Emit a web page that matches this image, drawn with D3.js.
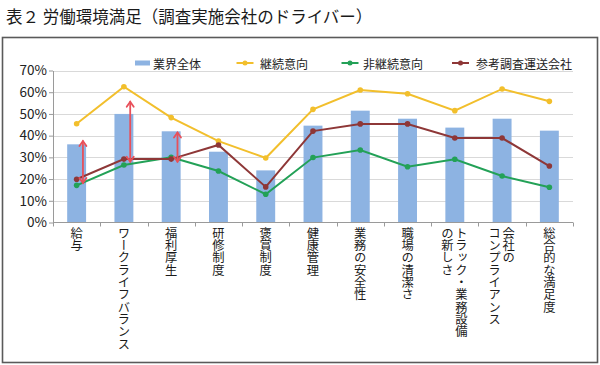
<!DOCTYPE html>
<html><head><meta charset="utf-8">
<script src="https://cdn.jsdelivr.net/npm/d3@7"></script>
<style>
html,body{margin:0;padding:0;background:#fff;}
svg{display:block;font-family:"Noto Sans CJK JP",sans-serif;}
</style></head>
<body><svg id="c" width="600" height="365"></svg>
<script>
const title = "表２ 労働環境満足（調査実施会社のドライバー）";
const categories = ["給与","ワークライフバランス","福利厚生","研修制度","褒賞制度","健康管理","業務の安全性","職場の清潔さ","トラック・業務設備の新しさ","会社のコンプライアンス","総合的な満足度"];
const categoryLines = [["給与"],["ワークライフバランス"],["福利厚生"],["研修制度"],["褒賞制度"],["健康管理"],["業務の安全性"],["職場の清潔さ"],["トラック・業務設備","の新しさ"],["会社の","コンプライアンス"],["総合的な満足度"]];
const seriesNames = ["業界全体","継続意向","非継続意向","参考調査運送会社"];
const industry = [36, 50, 42, 32.6, 24, 44.6, 51.5, 47.8, 43.7, 47.8, 42.3];
const continueIntent = [45.5, 62.5, 48.3, 37.5, 29.7, 52.1, 61, 59.3, 51.5, 61.5, 55.8];
const nonContinue = [17.1, 26.5, 30, 23.7, 13, 29.9, 33.4, 25.7, 29.1, 21.4, 16.2];
const reference = [19.9, 29.2, 29.2, 35.7, 16.4, 42.1, 45.4, 45.4, 38.9, 38.9, 26];
const yTicks = [0,10,20,30,40,50,60,70];
const arrowCats = ["給与","ワークライフバランス","福利厚生"];
const arrowLow = [18.2, 28, 28];
const arrowHigh = [37.5, 55.6, 41.4];

const colors = {bar:"#8db3e2", cont:"#f2bf2c", non:"#23a157", ref:"#8e3737", arrow:"#e8505a"};

const svg = d3.select("#c");
// frame
svg.append("rect").attr("x",2.5).attr("y",37.5).attr("width",595).attr("height",325)
  .attr("fill","none").attr("stroke","#5a5a5a").attr("stroke-width",1.6);
svg.append("text").attr("x",6).attr("y",16).attr("dominant-baseline","central")
  .attr("font-size",16.5).attr("font-weight",400).attr("fill","#1a1a1a").text(title);

const x = d3.scaleBand().domain(categories).range([53,573]).paddingInner(0.6).paddingOuter(0.3);
const y = d3.scaleLinear().domain([0,70]).range([222.5,70.5]);
const bw = x.bandwidth(), step = x.step();
const cx = c => x(c) + bw/2;

// gridlines
svg.append("g").selectAll("line").data(yTicks.filter(d=>d>0)).join("line")
  .attr("x1",53).attr("x2",573).attr("y1",d=>Math.round(y(d))+0.5).attr("y2",d=>Math.round(y(d))+0.5)
  .attr("stroke","#d9d9d9").attr("stroke-width",1);

// y axis
const ya = svg.append("g").attr("transform","translate(53,0)")
  .call(d3.axisLeft(y).tickValues(yTicks).tickFormat(d=>d+"%").tickSize(4).tickSizeOuter(0));
ya.select(".domain").attr("stroke","#9a9a9a");
ya.selectAll(".tick line").attr("stroke","#9a9a9a");
ya.selectAll(".tick text").attr("font-family","'Noto Sans CJK JP',sans-serif").attr("font-size",13.5).attr("fill","#222").attr("x",-6);

// bars
svg.append("g").selectAll("rect").data(categories).join("rect")
  .attr("x",c=>x(c)).attr("width",bw)
  .attr("y",(c,i)=>y(industry[i])).attr("height",(c,i)=>y(0)-y(industry[i]))
  .attr("fill",colors.bar);

// x axis
svg.append("line").attr("x1",53).attr("x2",573).attr("y1",222.5).attr("y2",222.5).attr("stroke","#9a9a9a");
const bounds = categories.map(c=>cx(c)-step/2).concat([cx(categories[categories.length-1])+step/2]);
svg.append("g").selectAll("line").data(bounds).join("line")
  .attr("x1",d=>Math.round(d)+0.5).attr("x2",d=>Math.round(d)+0.5).attr("y1",222.5).attr("y2",226.5)
  .attr("stroke","#9a9a9a");

// x labels (vertical)
categoryLines.forEach((lines,i)=>{
  const c = categories[i];
  const offs = lines.length===1 ? [0] : [6.5,-7.5];
  lines.forEach((t,j)=>{
    svg.append("text").attr("x",cx(c)+offs[j]).attr("y",227)
      .style("writing-mode","vertical-rl").attr("font-size",12.3).attr("fill","#1a1a1a").text(t);
  });
});

// lines
function drawLine(vals,color){
  const g = svg.append("g");
  g.append("path").datum(vals).attr("fill","none").attr("stroke",color).attr("stroke-width",2)
    .attr("d",d3.line().x((d,i)=>cx(categories[i])).y(d=>y(d)));
  g.selectAll("circle").data(vals).join("circle").attr("cx",(d,i)=>cx(categories[i])).attr("cy",d=>y(d))
    .attr("r",2.8).attr("fill",color);
}
drawLine(continueIntent,colors.cont);
drawLine(nonContinue,colors.non);
drawLine(reference,colors.ref);

// arrows
arrowCats.forEach((c,i)=>{
  const ax = cx(c)+6.3, y1 = y(arrowHigh[i]), y2 = y(arrowLow[i]);
  const g = svg.append("g").attr("stroke",colors.arrow).attr("stroke-width",1.8).attr("fill","none").attr("stroke-linecap","round");
  g.append("line").attr("x1",ax).attr("x2",ax).attr("y1",y1).attr("y2",y2);
  g.append("path").attr("d",`M${ax-3.5},${y1+5}L${ax},${y1}L${ax+3.5},${y1+5}`);
  g.append("path").attr("d",`M${ax-3.5},${y2-5}L${ax},${y2}L${ax+3.5},${y2-5}`);
});

// legend
const leg = svg.append("g");
const ly = 63;
leg.append("rect").attr("x",135).attr("y",ly-2.5).attr("width",15).attr("height",5).attr("fill",colors.bar);
leg.append("text").attr("x",153).attr("y",ly).attr("dominant-baseline","central").attr("font-size",12).attr("fill","#222").text(seriesNames[0]);
[[236.5,colors.cont,260,seriesNames[1]],[341.5,colors.non,363,seriesNames[2]],[452,colors.ref,476,seriesNames[3]]].forEach(([lx,col,tx,name])=>{
  leg.append("line").attr("x1",lx).attr("x2",lx+17).attr("y1",ly).attr("y2",ly).attr("stroke",col).attr("stroke-width",2);
  leg.append("circle").attr("cx",lx+8.5).attr("cy",ly).attr("r",2.5).attr("fill",col);
  leg.append("text").attr("x",tx).attr("y",ly).attr("dominant-baseline","central").attr("font-size",12).attr("fill","#222").text(name);
});
</script></body></html>
